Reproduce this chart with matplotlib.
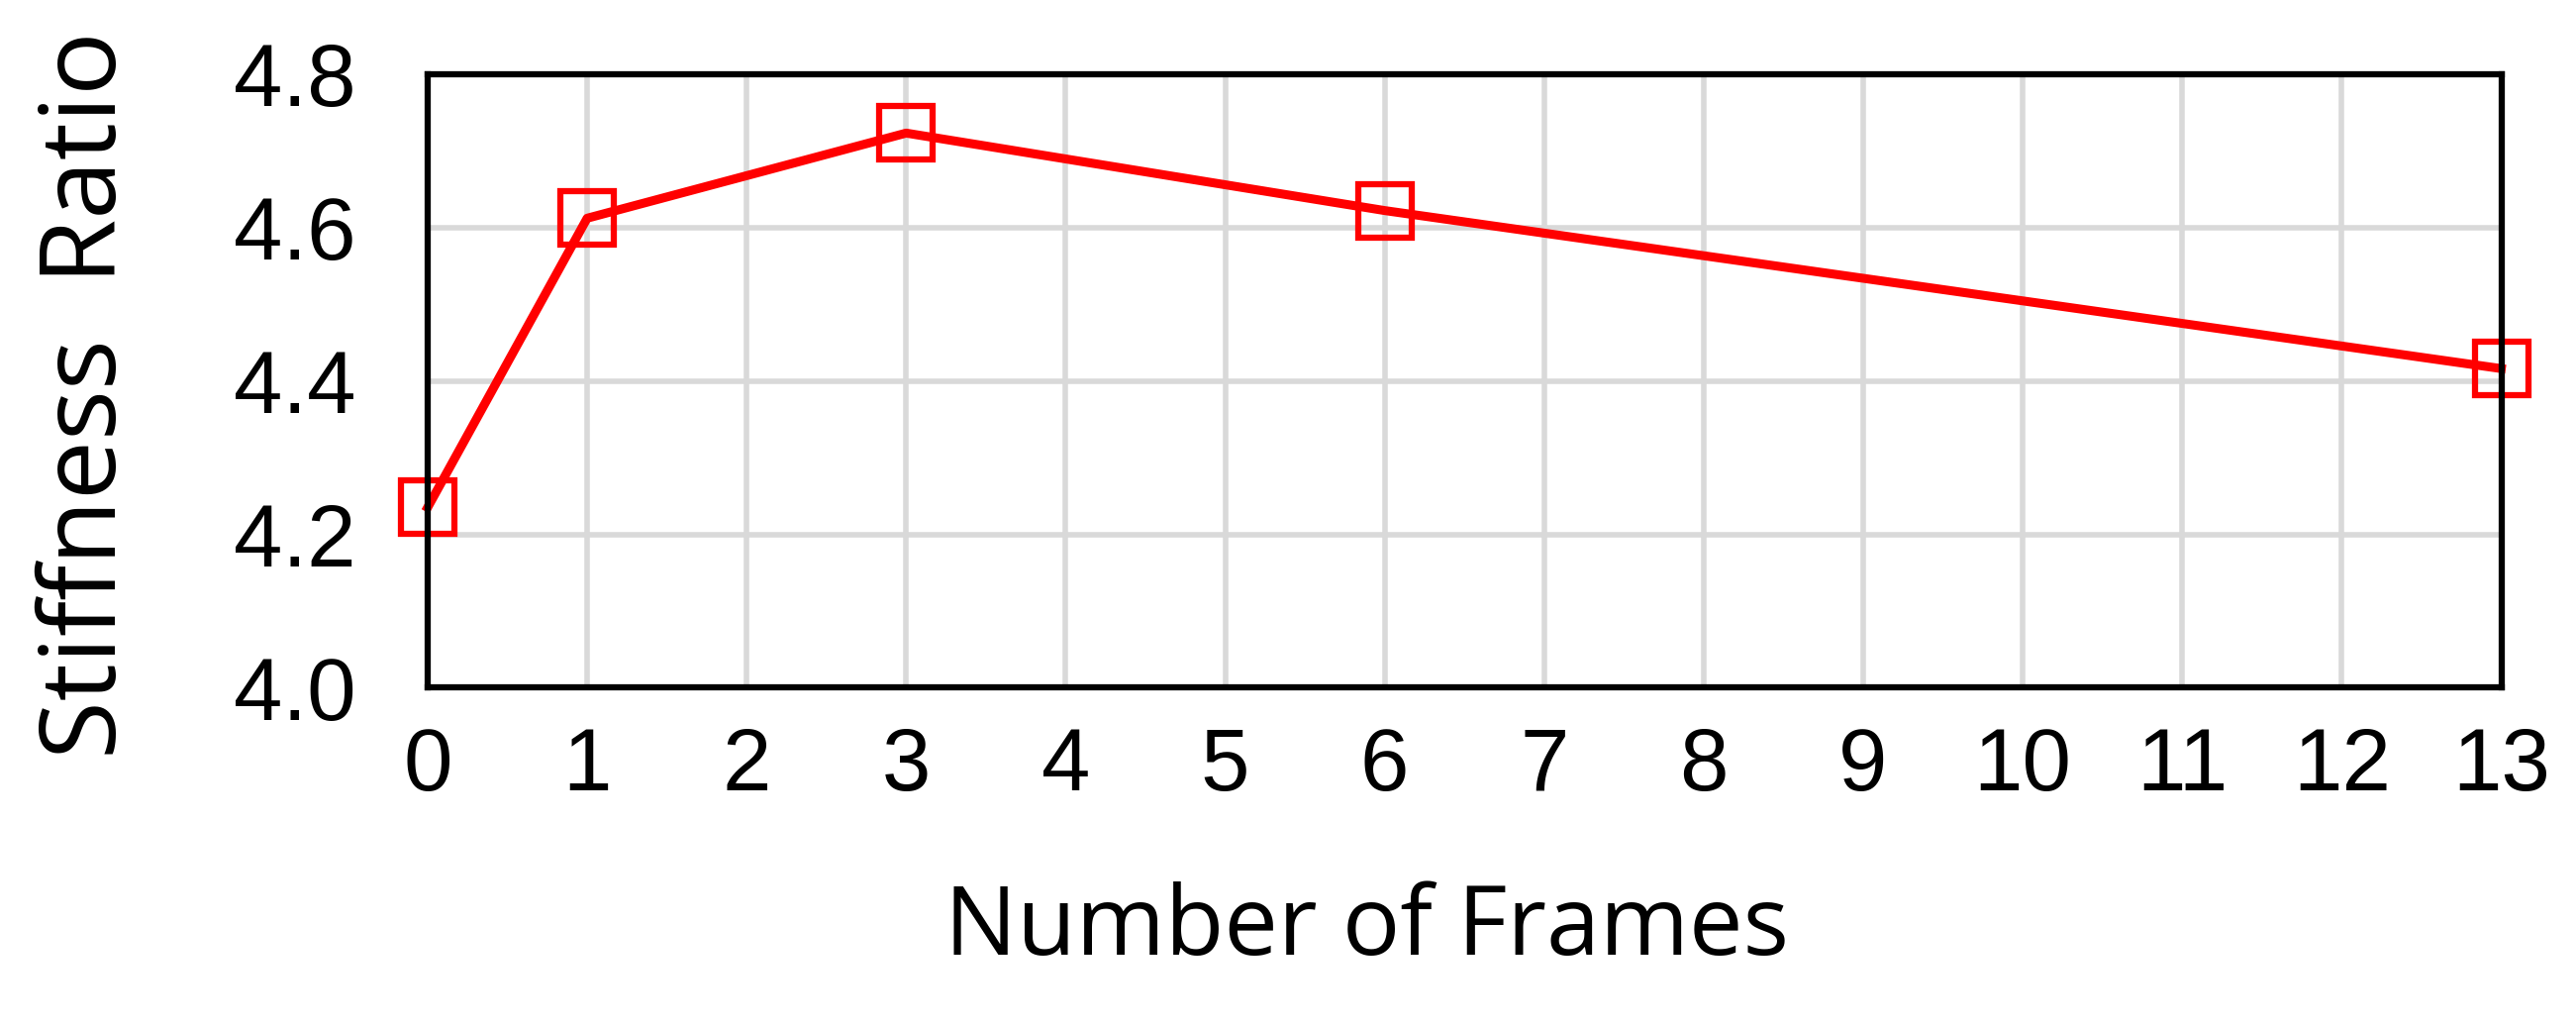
import matplotlib
matplotlib.use("Agg")
import matplotlib.pyplot as plt

# data
frames = [0, 1, 3, 6, 13]
stiffness = [4.235, 4.612, 4.723, 4.622, 4.416]
x_ticks = list(range(0, 14))
y_ticks = [4.0, 4.2, 4.4, 4.6, 4.8]

fig = plt.figure(figsize=(26.02, 10.38), dpi=100)
ax = fig.add_axes([0.166, 0.331, 0.805, 0.597])

ax.plot(frames, stiffness, color="#ff0000", linewidth=6.5,
        marker="s", markersize=39, markerfacecolor="none",
        markeredgecolor="#ff0000", markeredgewidth=4.5, clip_on=False, zorder=3)

ax.set_xlim(0, 13)
ax.set_ylim(4.0, 4.8)
ax.set_xticks(x_ticks)
ax.set_yticks(y_ticks)
ax.set_yticklabels([f"{v:.1f}" for v in y_ticks])
ax.grid(color="#d9d9d9", linewidth=4)
ax.set_axisbelow(True)

for sp in ax.spines.values():
    sp.set_color("black")
    sp.set_linewidth(4.5)
    sp.set_zorder(4)

ax.tick_params(axis="both", length=0, labelsize=64)
ax.tick_params(axis="x", pad=28)
ax.tick_params(axis="y", pad=52)
for lab in ax.get_xticklabels() + ax.get_yticklabels():
    lab.set_family("Liberation Sans")

ax.set_xlabel("Number of Frames", fontsize=70, family="Open Sans")
ax.xaxis.set_label_coords(0.453, -0.315)
ax.set_ylabel("Stiffness  Ratio", fontsize=77, family="Open Sans", labelpad=68)
ax.yaxis.label.set_y(0.477)

fig.savefig("out.png", dpi=100)
